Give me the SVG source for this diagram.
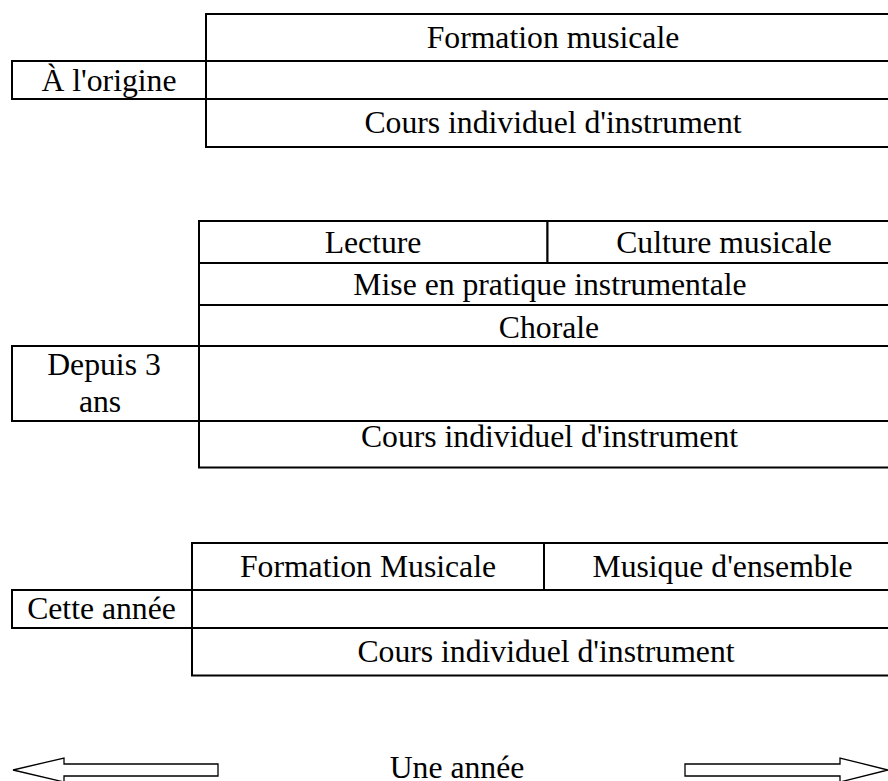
<svg xmlns="http://www.w3.org/2000/svg" width="888" height="781" viewBox="0 0 888 781">
<style>
.c{fill:#fff;stroke:#000;stroke-width:2}
.t{font-family:"Liberation Serif","Times New Roman",serif;font-size:31.7px;fill:#000;text-anchor:middle}
.a{fill:#fff;stroke:#000;stroke-width:1.3;stroke-linejoin:miter}
</style>
<rect width="888" height="781" fill="#fff"/>
<g id="block1">
  <g id="b1-formation"><rect class="c" x="206" y="14" width="700" height="47"/><text class="t" x="553" y="48">Formation musicale</text></g>
  <g id="b1-gap"><rect class="c" x="206" y="61" width="700" height="38"/></g>
  <g id="b1-cours"><rect class="c" x="206" y="99" width="700" height="48"/><text class="t" x="553" y="133">Cours individuel d'instrument</text></g>
  <g id="b1-label"><rect class="c" x="12" y="61" width="194" height="38"/><text class="t" x="109" y="90.5">À l'origine</text></g>
</g>
<g id="block2">
  <g id="b2-lecture"><rect class="c" x="199" y="221" width="348.5" height="42"/><text class="t" x="373" y="252.7">Lecture</text></g>
  <g id="b2-culture"><rect class="c" x="547.5" y="221" width="360" height="42"/><text class="t" x="724" y="252.7">Culture musicale</text></g>
  <g id="b2-mise"><rect class="c" x="199" y="263" width="708" height="42"/><text class="t" x="550" y="294.5">Mise en pratique instrumentale</text></g>
  <g id="b2-chorale"><rect class="c" x="199" y="305" width="708" height="41"/><text class="t" x="549" y="337.5">Chorale</text></g>
  <g id="b2-gap"><rect class="c" x="199" y="346" width="708" height="75"/></g>
  <g id="b2-cours"><rect class="c" x="199" y="421" width="708" height="46.5"/><text class="t" x="549.5" y="447">Cours individuel d'instrument</text></g>
  <g id="b2-label"><rect class="c" x="12" y="346" width="187" height="75"/><text class="t" x="104" y="375">Depuis 3</text><text class="t" x="100" y="411.5">ans</text></g>
</g>
<g id="block3">
  <g id="b3-formation"><rect class="c" x="192" y="543" width="352" height="47"/><text class="t" x="368" y="577">Formation Musicale</text></g>
  <g id="b3-ensemble"><rect class="c" x="544" y="543" width="360" height="47"/><text class="t" x="722.5" y="577">Musique d'ensemble</text></g>
  <g id="b3-gap"><rect class="c" x="192" y="590" width="712" height="38"/></g>
  <g id="b3-cours"><rect class="c" x="192" y="628" width="712" height="47.5"/><text class="t" x="546" y="662">Cours individuel d'instrument</text></g>
  <g id="b3-label"><rect class="c" x="12" y="590" width="180" height="38"/><text class="t" x="101.5" y="619">Cette année</text></g>
</g>
<g id="connectors">
  <polygon id="arrow-left" class="a" points="13,770 64,758 64,764 218,764 218,776 64,776 64,782"/>
  <polygon id="arrow-right" class="a" points="685,764 840,764 840,758 888,770 840,782 840,776 685,776"/>
</g>
<g id="axis-label"><text class="t" x="457" y="778">Une année</text></g>
</svg>
